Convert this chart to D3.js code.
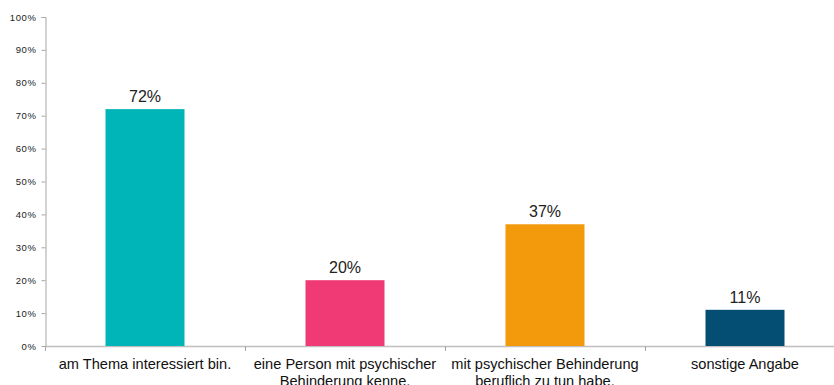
<!DOCTYPE html>
<html><head><meta charset="utf-8">
<script src="https://cdn.jsdelivr.net/npm/d3@7"></script>
<style>body{margin:0;background:#fff;}svg{display:block;}</style>
</head><body>
<svg id="c" width="834" height="385"></svg>
<script>
const categories = [
  ["am Thema interessiert bin."],
  ["eine Person mit psychischer", "Behinderung kenne."],
  ["mit psychischer Behinderung", "beruflich zu tun habe."],
  ["sonstige Angabe"]
];
const values = [72, 20, 37, 11];
const colors = ["#00b5b7", "#ef3a75", "#f39a0c", "#044e74"];
const yTicks = [0,10,20,30,40,50,60,70,80,90,100];

const svg = d3.select("#c");
const x0 = 45, bandW = 200, y0 = 346, yTop = 17;
const x = d3.scaleBand().domain(d3.range(categories.length)).range([x0, x0 + bandW*categories.length]).paddingInner(0.605).paddingOuter(0.3025);
const y = d3.scaleLinear().domain([0,100]).range([y0, yTop]);
const font = "'Liberation Sans', Arial, sans-serif";

// y axis
const yAxis = d3.axisLeft(y).tickValues(yTicks).tickFormat(d => d + "%").tickSize(4).tickPadding(5);
const gy = svg.append("g").attr("transform", `translate(${x0 + 0.5},0)`).call(yAxis);
gy.select(".domain").attr("stroke", "#a6a6a6").attr("d", `M-4,${yTop+0.5}H0.5V${y0}`);
gy.selectAll(".tick line").attr("stroke", "#a6a6a6");
gy.selectAll(".tick text").attr("font-family", font).attr("font-size", 9.5).attr("fill", "#222").attr("letter-spacing", "0.6px");

// x axis line
svg.append("line").attr("x1", x0).attr("x2", 834).attr("y1", y0 + 0.5).attr("y2", y0 + 0.5).attr("stroke", "#bfbfbf").attr("stroke-width", 1.5);
d3.range(categories.length + 1).forEach(i => {
  svg.append("line").attr("x1", x0 + i*bandW + 0.5).attr("x2", x0 + i*bandW + 0.5).attr("y1", y0).attr("y2", y0 + 5).attr("stroke", "#a6a6a6");
});

// bars
svg.selectAll("rect.bar").data(values).enter().append("rect").attr("class","bar")
  .attr("x", (d,i) => x(i)).attr("width", x.bandwidth())
  .attr("y", d => y(d)).attr("height", d => y0 - y(d))
  .attr("fill", (d,i) => colors[i]);

// value labels
svg.selectAll("text.val").data(values).enter().append("text").attr("class","val")
  .attr("x", (d,i) => x(i) + x.bandwidth()/2).attr("y", d => y(d) - 7)
  .attr("text-anchor", "middle").attr("font-family", font).attr("font-size", 16).attr("fill", "#222")
  .text(d => d + "%");

// category labels
categories.forEach((lines, i) => {
  const t = svg.append("text").attr("text-anchor", "middle").attr("font-family", font).attr("font-size", 14.6).attr("fill", "#111");
  lines.forEach((l, j) => {
    t.append("tspan").attr("x", x(i) + x.bandwidth()/2).attr("y", 369 + j*16.5).text(l);
  });
});
</script>
</body></html>
